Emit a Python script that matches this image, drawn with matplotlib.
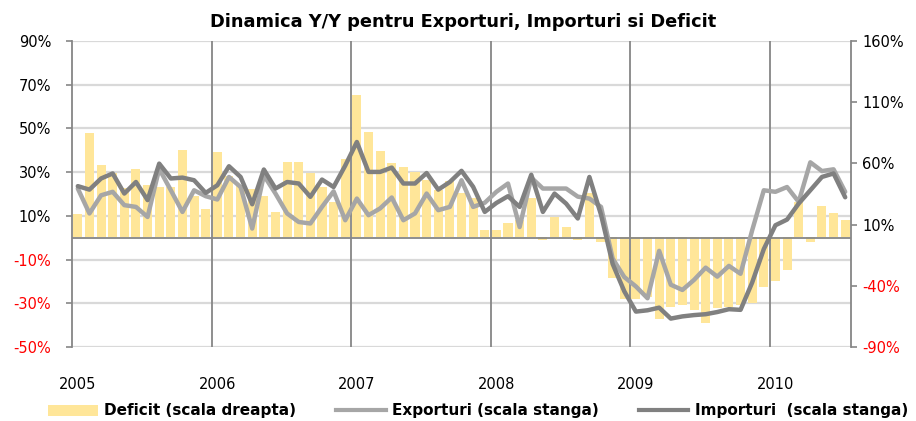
import matplotlib
matplotlib.use("Agg")
import matplotlib.pyplot as plt
from matplotlib.patches import Patch
from matplotlib.lines import Line2D
from matplotlib.ticker import FuncFormatter

plt.rcParams['font.family'] = ['DejaVu Sans']

years = ['2005', '2006', '2007', '2008', '2009', '2010']

# Monthly values Jan 2005 .. Jul 2010
exporturi = [22.5, 11.1, 19.4, 21.0, 14.9, 14.1, 9.5, 31.5, 21.7, 11.8, 21.7, 19.0,
             17.5, 27.8, 23.2, 4.2, 28.5, 20.2, 11.1, 7.2, 6.5, 14.1, 21.2, 8.0,
             17.9, 10.3, 13.4, 18.4, 8.0, 11.1, 20.2, 12.6, 14.1, 26.3, 14.1, 16.0,
             21.0, 24.8, 4.9, 27.5, 22.5, 22.5, 22.5, 18.8, 17.9, 14.1, -9.5, -18.0,
             -22.3, -27.7, -6.0, -21.5, -23.9, -19.3, -13.7, -17.8, -12.9, -16.5, 3.4, 21.7,
             21.0, 23.2, 16.4, 34.5, 30.5, 31.3, 21.0]

importuri = [23.6, 22.0, 27.1, 29.4, 20.2, 25.5, 17.2, 33.9, 27.1, 27.5, 26.3, 20.5,
             24.0, 32.7, 27.8, 15.3, 31.2, 22.5, 25.5, 24.8, 18.7, 26.6, 23.2, 33.0,
             43.8, 30.1, 30.1, 32.1, 24.8, 24.8, 29.6, 22.0, 25.5, 30.6, 23.3, 11.8,
             15.9, 19.0, 14.1, 28.8, 11.8, 20.2, 15.6, 8.8, 27.8, 10.5, -12.0, -24.5,
             -33.8, -33.2, -32.0, -37.0, -36.0, -35.4, -35.0, -34.0, -32.7, -33.0, -20.5, -5.2,
             5.7, 8.3, 15.6, 21.7, 27.8, 29.4, 18.5]

deficit = [18.5, 84.7, 58.8, 52.0, 40.0, 55.3, 42.5, 41.0, 41.0, 71.0, 33.0, 22.6,
           69.7, 50.0, 42.0, 39.3, 33.5, 20.5, 61.3, 61.3, 52.3, 40.5, 28.8, 63.8,
           116.0, 86.0, 70.5, 60.0, 57.0, 52.8, 46.6, 38.0, 46.0, 35.7, 32.0, 5.7,
           5.7, 11.5, 14.0, 31.8, -2.2, 16.6, 8.4, -2.2, 36.0, -4.6, -33.5, -51.0,
           -51.0, -49.0, -67.0, -57.0, -56.0, -60.0, -70.5, -58.5, -57.0, -55.5, -54.0, -40.6,
           -35.7, -27.0, 28.8, -4.6, 24.8, 19.4, 13.9]

n = len(deficit)
xpos = [i + 0.5 for i in range(n)]

W, H = 916, 421
fig = plt.figure(figsize=(W / 100, H / 100), dpi=100)
rect = [72 / W, 1 - 347 / H, (851 - 72) / W, (347 - 41) / H]

grid_c = '#D9D9D9'
axis_c = '#868686'
bar_c = '#FFE699'
exp_c = '#A6A6A6'
imp_c = '#808080'
fs = 10.5

# bottom layer: grid + left axis
axg = fig.add_axes(rect)
axg.set_xlim(0, n)
axg.set_ylim(-50, 90)
lticks = [-50, -30, -10, 10, 30, 50, 70, 90]
axg.set_yticks(lticks)
axg.yaxis.set_major_formatter(FuncFormatter(lambda v, p: f"{v:.0f}%"))
for v in lticks:
    axg.axhline(v, color=grid_c, lw=1.6, zorder=0)
for s in ['top', 'bottom', 'right']:
    axg.spines[s].set_visible(False)
axg.spines['left'].set_color(axis_c)
axg.spines['left'].set_linewidth(1.3)
axg.tick_params(axis='y', direction='out', length=4, width=1.2, color=axis_c,
                labelsize=fs, pad=11)
for lbl, v in zip(axg.get_yticklabels(), lticks):
    lbl.set_color('#FF0000' if v < 0 else 'black')
ticks_x = [12 * k + 0.5 for k in range(len(years))]
axg.set_xticks(ticks_x)
axg.set_xticklabels(years)
axg.tick_params(axis='x', length=0, labelsize=fs, pad=21.5)

# middle layer: bars on right scale
axr = axg.twinx()
axr.set_ylim(-90, 160)
rticks = [-90, -40, 10, 60, 110, 160]
axr.set_yticks(rticks)
axr.yaxis.set_major_formatter(FuncFormatter(lambda v, p: f"{v:.0f}%"))
axr.bar(xpos, deficit, width=0.78, color=bar_c, zorder=2)
for s in ['top', 'bottom', 'left']:
    axr.spines[s].set_visible(False)
axr.spines['right'].set_color(axis_c)
axr.spines['right'].set_linewidth(1.3)
axr.tick_params(axis='y', direction='out', length=4, width=1.2, color=axis_c,
                labelsize=fs, pad=4)
for lbl, v in zip(axr.get_yticklabels(), rticks):
    lbl.set_color('#FF0000' if v < 0 else 'black')
axr.patch.set_visible(False)

# top layer: year lines, zero line, series lines on left scale
axl = fig.add_axes(rect, sharex=axg, sharey=axg)
axl.patch.set_visible(False)
axl.axis('off')
for k in range(1, len(years)):
    axl.axvline(12 * k, color=axis_c, lw=1.3, zorder=1)
axl.axhline(0, color=axis_c, lw=1.3, zorder=1)
axl.plot(xpos, exporturi, color=exp_c, lw=3.2, solid_joinstyle='round',
         solid_capstyle='round', zorder=3)
axl.plot(xpos, importuri, color=imp_c, lw=3.2, solid_joinstyle='round',
         solid_capstyle='round', zorder=4)

fig.text(463 / W, 1 - 22 / H, 'Dinamica Y/Y pentru Exporturi, Importuri si Deficit',
         ha='center', va='center', fontsize=12.8, fontweight='bold')

handles = [Patch(facecolor=bar_c, edgecolor='none'),
           Line2D([0], [0], color=exp_c, lw=3),
           Line2D([0], [0], color=imp_c, lw=3)]
labels = ['Deficit (scala dreapta)', 'Exporturi (scala stanga)',
          'Importuri  (scala stanga)']
fig.legend(handles, labels, loc='center', bbox_to_anchor=(478 / W, 10 / H),
           ncol=3, frameon=False, prop={'size': 11, 'weight': 'bold'},
           handlelength=3.27, handletextpad=0.4, columnspacing=2.6,
           borderaxespad=0, borderpad=0)

fig.savefig('out.png', dpi=100)
